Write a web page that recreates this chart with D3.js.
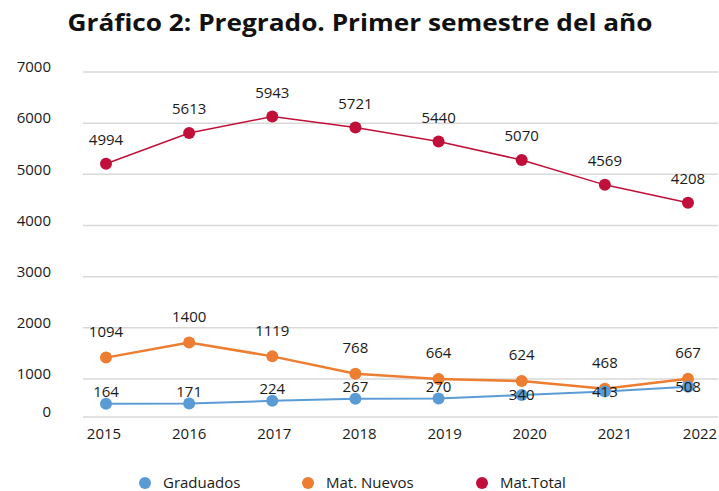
<!DOCTYPE html>
<html>
<head>
    <meta charset="utf-8">
    <title>Gráfico 2: Pregrado</title>
    <script src="https://d3js.org/d3.v7.min.js"></script>
    <style>
        body {
            margin: 0;
            background: #fff;
            font-family: "Open Sans", Arial, sans-serif;
        }
        .grid line {
            stroke: #d9d9d9;
            stroke-width: 1.5px;
        }
        .tick-label, .year-label, .value-label, .legend-label {
            font-size: 15px;
            fill: #1a1a1a;
        }
    </style>
</head>
<body>
    <div id="chart"></div>
    <script>
        // Data
        const years = [2015, 2016, 2017, 2018, 2019, 2020, 2021, 2022];
        const graduados = [164, 171, 224, 267, 270, 340, 413, 508];
        const matNuevos = [1094, 1400, 1119, 768, 664, 624, 468, 667];
        const matTotal = [4994, 5613, 5943, 5721, 5440, 5070, 4569, 4208];
        const yTicks = [0, 1000, 2000, 3000, 4000, 5000, 6000, 7000];

        const series = [
            { name: "Graduados", values: graduados, color: "#5b9bd5", line: 2, labelDy: -12 },
            { name: "Mat. Nuevos", values: matNuevos, color: "#ed7d31", line: 2.5, labelDy: -26 },
            { name: "Mat.Total", values: matTotal, color: "#c0103a", line: 1.5, labelDy: -24 }
        ];

        const width = 719, height = 491;

        const svg = d3.select("#chart")
            .append("svg")
            .attr("width", width)
            .attr("height", height);

        // Scales
        const x = d3.scalePoint().domain(years).range([106, 688]);
        const xLabel = d3.scalePoint().domain(years).range([104, 700]);
        const y = d3.scaleLinear().domain([0, 7000]).range([412, 64]);
        // the grid in the original does not sit on the same scale as the marks
        const yGrid = d3.scaleLinear().domain([0, 1000, 7000]).range([417, 379, 72]);

        // Title
        svg.append("text")
            .attr("x", 360)
            .attr("y", 31)
            .attr("text-anchor", "middle")
            .attr("textLength", 585)
            .attr("lengthAdjust", "spacingAndGlyphs")
            .style("font-family", "'Open Sans', sans-serif")
            .style("font-weight", "bold")
            .style("font-size", "24px")
            .style("fill", "#111")
            .text("Gráfico 2: Pregrado. Primer semestre del año");

        // Gridlines
        svg.append("g")
            .attr("class", "grid")
            .selectAll("line")
            .data(yTicks)
            .enter()
            .append("line")
            .attr("x1", 83)
            .attr("x2", 718)
            .attr("y1", d => yGrid(d))
            .attr("y2", d => yGrid(d));

        // Y tick labels
        svg.append("g")
            .selectAll("text")
            .data(yTicks)
            .enter()
            .append("text")
            .attr("class", "tick-label")
            .attr("x", 51)
            .attr("y", d => yGrid(d) - 5)
            .attr("dy", "0.35em")
            .attr("text-anchor", "end")
            .text(d => d);

        // X labels
        svg.append("g")
            .selectAll("text")
            .data(years)
            .enter()
            .append("text")
            .attr("class", "year-label")
            .attr("x", d => xLabel(d))
            .attr("y", 434)
            .attr("dy", "0.35em")
            .attr("text-anchor", "middle")
            .text(d => d);

        const line = d3.line()
            .x((d, i) => x(years[i]))
            .y(d => y(d));

        // Draw the series: Mat.Total first, then orange, blue on top
        const order = [series[2], series[1], series[0]];

        order.forEach(s => {
            const g = svg.append("g");

            g.append("path")
                .datum(s.values)
                .attr("fill", "none")
                .attr("stroke", s.color)
                .attr("stroke-width", s.line)
                .attr("d", line);

            g.selectAll("circle")
                .data(s.values)
                .enter()
                .append("circle")
                .attr("cx", (d, i) => x(years[i]))
                .attr("cy", d => y(d))
                .attr("r", 6)
                .attr("fill", s.color);
        });

        // Blue labels drop onto their point when the orange line is close above
        function labelY(s, d, i) {
            if (s.name === "Graduados" && y(d) - y(matNuevos[i]) < 18) return y(d);
            return y(d) + s.labelDy;
        }

        // Value labels on top of everything
        order.forEach(s => {
            svg.append("g")
                .selectAll("text")
                .data(s.values)
                .enter()
                .append("text")
                .attr("class", "value-label")
                .attr("x", (d, i) => x(years[i]))
                .attr("y", (d, i) => labelY(s, d, i))
                .attr("dy", "0.35em")
                .attr("text-anchor", "middle")
                .text(d => d);
        });

        // Legend
        const legendX = [145, 308, 482];
        const legend = svg.append("g")
            .selectAll("g")
            .data(series)
            .enter()
            .append("g")
            .attr("transform", (d, i) => `translate(${legendX[i]},483)`);

        legend.append("circle")
            .attr("r", 6)
            .attr("fill", d => d.color);

        legend.append("text")
            .attr("class", "legend-label")
            .attr("x", 18)
            .attr("dy", "0.3em")
            .text(d => d.name);
    </script>
</body>
</html>
